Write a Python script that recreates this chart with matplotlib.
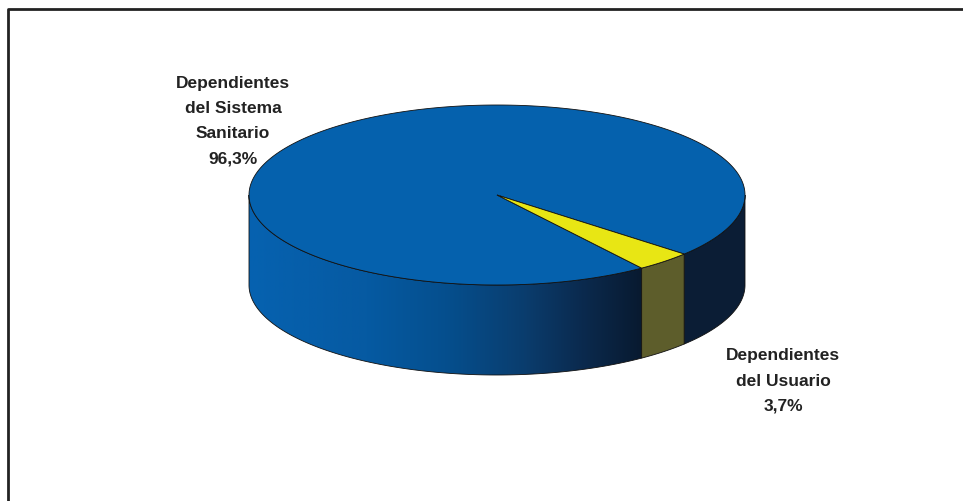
import matplotlib.pyplot as plt
import numpy as np
from matplotlib.patches import Polygon
from matplotlib.colors import LinearSegmentedColormap

labels = ["Dependientes\ndel Sistema\nSanitario", "Dependientes\ndel Usuario"]
values = [96.3, 3.7]
top_colors = ["#0561ad", "#e8e614"]
side_colors = [None, "#5d5d2b"]

# pie geometry in pixel coords
cx, cy, rx, ry, depth = 497, 195, 248, 90, 90
end_small = -41.0  # angle where small slice ends


def pt(t, dz=0):
    t = np.radians(t)
    return cx + rx * np.cos(t), cy - ry * np.sin(t) + dz


fig = plt.figure(figsize=(9.63, 5.01), dpi=100)
ax = fig.add_axes([0, 0, 1, 1])
ax.set_xlim(0, 963)
ax.set_ylim(501, 0)
ax.axis("off")

# frame (left and top)
ax.plot([7.5, 7.5, 963], [501, 8.5, 8.5], color="#222222", lw=2, zorder=1)

total = sum(values)
spans = [v / total * 360 for v in values]
small_start = end_small - spans[1]
blue_start = end_small
blue_end = small_start + 360


def side_patch(a0, a1):
    a0c, a1c = max(a0, -180), min(a1, 0)
    ts = np.linspace(a0c, a1c, 200)
    xs, ys = pt(ts)
    xb, yb = pt(ts[::-1], depth)
    return np.column_stack([np.r_[xs, xb], np.r_[ys, yb]])


# blue side with horizontal gradient
cmap = LinearSegmentedColormap.from_list(
    "side", [(0, "#0662b0"), (0.3, "#065aa2"), (0.5, "#054f8e"),
             (0.7, "#0a3d6e"), (0.85, "#0b2a4e"), (1.0, "#081a30")])
grad = np.linspace(0, 1, 256)[None, :]
verts = side_patch(-180, small_start)
im = ax.imshow(grad, cmap=cmap, extent=(cx - rx, pt(small_start)[0], 400, 100),
               aspect="auto", zorder=2)
clip = Polygon(verts, closed=True, fc="none", ec="none")
ax.add_patch(clip)
im.set_clip_path(clip)
ax.add_patch(Polygon(verts, closed=True, fc="none", ec="#111111", lw=0.6, zorder=3))
ax.add_patch(Polygon(side_patch(end_small, 0), closed=True,
                     fc="#0b1d35", ec="#111111", lw=0.6, zorder=3))

# small slice side
ax.add_patch(Polygon(side_patch(small_start, end_small), closed=True,
                     fc=side_colors[1], ec="#111111", lw=0.6, zorder=3))

# top faces
for a0, a1, c in [(blue_start, blue_end, top_colors[0]),
                  (small_start, end_small, top_colors[1])]:
    ts = np.linspace(a0, a1, 400)
    xs, ys = pt(ts)
    v = np.column_stack([np.r_[cx, xs], np.r_[cy, ys]])
    ax.add_patch(Polygon(v, closed=True, fc=c, ec="#111111", lw=0.6, zorder=4))

font = dict(family=["Liberation Sans", "DejaVu Sans"], fontweight="bold",
            fontsize=12.5, color="#222222", ha="center", va="center", linespacing=1.85)
pct = [f"{v:.1f}".replace(".", ",") + "%" for v in values]
ax.text(233, 121, labels[0] + "\n" + pct[0], **font)
ax.text(783, 381, labels[1] + "\n" + pct[1], **font)

fig.savefig("out.png", dpi=100)
